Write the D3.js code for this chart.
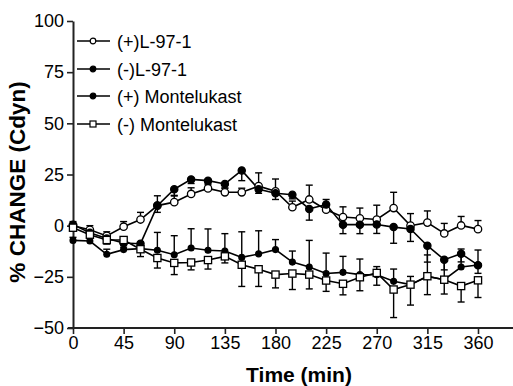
<!DOCTYPE html>
<html>
<head>
<meta charset="utf-8">
<script src="https://cdn.jsdelivr.net/npm/d3@7"></script>
<style>
  body { margin: 0; background: #fff; }
  text { font-family: "Liberation Sans", Arial, sans-serif; fill: #000; }
</style>
</head>
<body>
<svg id="chart" width="513" height="386"></svg>
<script>
// time points (min)
const times = [0, 15, 30, 45, 60, 75, 90, 105, 120, 135, 150, 165, 180, 195, 210, 225, 240, 255, 270, 285, 300, 315, 330, 345, 360];
const xTicks = [0, 45, 90, 135, 180, 225, 270, 315, 360];
const yTicks = [-50, -25, 0, 25, 50, 75, 100];

// % change in Cdyn
const plusL97 = [0, -2, -5, -0.5, 3, 9.8, 11.5, 15.5, 18.2, 16.3, 16.3, 19.3, 16.8, 9, 12.8, 7.8, 4.2, 3.6, 3, 8.6, 0, 1.5, -3.8, 0.1, -1.7];
const plusL97Err = [2, 2, 2, 2.5, 3.5, 4.8, 3, 3, 2.5, 2, 2, 6.5, 6, 3, 7, 5, 5, 5, 7, 7.7, 5.9, 5.7, 4.9, 4.4, 4.2];
const minusL97 = [-7.2, -7.5, -14, -11.7, -11.2, -12, -14.2, -10.9, -12, -12.4, -15.5, -13.8, -11.7, -17.8, -20.2, -23.4, -22.8, -23.9, -24, -27.2, -28.8, -24.8, -26.4, -20.2, -19.2];
const minusL97Err = [1.5, 1.5, 2.5, 3, 3, 8.7, 9.3, 9.4, 10.4, 8.5, 12.5, 11.3, 4.9, 5.4, 13, 10, 7.8, 7.6, 4, 6, 4, 10.5, 10, 8.8, 7.3];
const plusMont = [0.5, -3.5, -6.3, -8.5, -8.8, 9.8, 17.8, 22.6, 22, 20.4, 27, 17.8, 15.8, 15.1, 8.2, 10.3, 0.5, 0.5, 0.6, -0.7, -1.6, -9.8, -16.6, -13.7, -19.3];
const plusMontErr = [1.5, 1.5, 2, 2, 3, 3.3, 3, 2, 2, 2, 5, 2, 3, 2, 5.5, 3, 4.4, 4.4, 4.4, 7.9, 6.1, 8, 5, 4, 4];
const minusMont = [-1, -4.4, -7, -7, -11.5, -15.8, -18.2, -18, -16.8, -15, -19.1, -21.3, -23.9, -23.4, -23.9, -26.8, -28.4, -25.2, -23.1, -31.2, -28.8, -24.7, -26.4, -29.5, -26.7];
const minusMontErr = [1.5, 1.5, 2, 2.5, 3.6, 4.9, 5.7, 3.6, 4.4, 3.2, 10.6, 8.4, 6.5, 7.8, 7, 5.3, 5.4, 6.6, 6, 13.7, 10, 9, 7, 7.8, 8.4];

const seriesNames = ["(+)L-97-1", "(-)L-97-1", "(+) Montelukast", "(-) Montelukast"];

const series = [
  { name: seriesNames[0], values: plusL97, err: plusL97Err, dir: -1, shape: "circle", fill: "#fff", r: 3.7 },
  { name: seriesNames[1], values: minusL97, err: minusL97Err, dir: -1, shape: "circle", fill: "#000", r: 2.9 },
  { name: seriesNames[2], values: plusMont, err: plusMontErr, dir: 1, shape: "circle", fill: "#000", r: 3.6 },
  { name: seriesNames[3], values: minusMont, err: minusMontErr, dir: 1, shape: "square", fill: "#fff", r: 3.6 },
];

const svg = d3.select("#chart");
const x = d3.scaleLinear().domain([0, 400]).range([73, 523]);
const y = d3.scaleLinear().domain([-50, 100]).range([328, 21]);

// axes
const xAxis = svg.append("g")
  .attr("transform", `translate(0,${y(-50)})`)
  .call(d3.axisBottom(x).tickValues(xTicks).tickSize(6).tickPadding(2).tickSizeOuter(0));
const yAxis = svg.append("g")
  .attr("transform", `translate(${x(0)},0)`)
  .call(d3.axisLeft(y).tickValues(yTicks).tickSize(6).tickPadding(3).tickSizeOuter(0));

[xAxis, yAxis].forEach((a) => {
  a.select(".domain").attr("stroke", "#222").attr("stroke-width", 2);
  a.selectAll(".tick line").attr("stroke", "#222").attr("stroke-width", 1.6);
  a.selectAll(".tick text").style("font-size", "18px").attr("fill", "#000");
});
// x axis line runs on past the y axis a little
xAxis.select(".domain").attr("d", `M${x(0) - 5},0H513`);

svg.append("text")
  .attr("x", 299)
  .attr("y", 382)
  .attr("text-anchor", "middle")
  .style("font-size", "21px")
  .style("font-weight", "bold")
  .text("Time (min)");

svg.append("text")
  .attr("transform", "translate(25,182) rotate(-90)")
  .attr("text-anchor", "middle")
  .style("font-size", "22.5px")
  .style("font-weight", "bold")
  .text("% CHANGE (Cdyn)");

const line = d3.line()
  .x((d) => x(d.t))
  .y((d) => y(d.v));

const drawMarker = (sel, s) => {
  if (s.shape === "square") {
    sel.append("rect")
      .attr("x", (d) => x(d.t) - s.r)
      .attr("y", (d) => y(d.v) - s.r)
      .attr("width", s.r * 2)
      .attr("height", s.r * 2)
      .attr("fill", s.fill)
      .attr("stroke", "#000")
      .attr("stroke-width", 1.3);
  } else {
    sel.append("circle")
      .attr("cx", (d) => x(d.t))
      .attr("cy", (d) => y(d.v))
      .attr("r", s.r)
      .attr("fill", s.fill)
      .attr("stroke", "#000")
      .attr("stroke-width", 1.3);
  }
};

const plot = svg.append("g");

series.forEach((s) => {
  const pts = times.map((t, i) => ({ t, v: s.values[i], e: s.err[i] }));
  const g = plot.append("g");

  g.append("path")
    .datum(pts)
    .attr("fill", "none")
    .attr("stroke", "#000")
    .attr("stroke-width", 1.6)
    .attr("d", line);

  // one-sided error bars
  const bars = g.selectAll(".err").data(pts).join("g").attr("class", "err");
  bars.append("line")
    .attr("x1", (d) => x(d.t))
    .attr("x2", (d) => x(d.t))
    .attr("y1", (d) => y(d.v))
    .attr("y2", (d) => y(d.v - s.dir * d.e))
    .attr("stroke", "#000")
    .attr("stroke-width", 1.4);
  bars.append("line")
    .attr("x1", (d) => x(d.t) - 3.5)
    .attr("x2", (d) => x(d.t) + 3.5)
    .attr("y1", (d) => y(d.v - s.dir * d.e))
    .attr("y2", (d) => y(d.v - s.dir * d.e))
    .attr("stroke", "#000")
    .attr("stroke-width", 1.4);

  s.pts = pts;
});

series.forEach((s) => {
  const m = plot.append("g").selectAll("g").data(s.pts).join("g");
  drawMarker(m, s);
});

// legend
const legend = svg.append("g");
const rowY = [41, 69, 96, 124];
series.forEach((s, i) => {
  const row = legend.append("g").attr("transform", `translate(0,${rowY[i]})`);
  row.append("line")
    .attr("x1", 77).attr("x2", 110)
    .attr("stroke", "#000").attr("stroke-width", 1.6);
  if (s.shape === "square") {
    row.append("rect").attr("x", 93 - 3).attr("y", -3).attr("width", 6).attr("height", 6)
      .attr("fill", s.fill).attr("stroke", "#000").attr("stroke-width", 1.2);
  } else {
    row.append("circle").attr("cx", 93).attr("cy", 0).attr("r", 2.8)
      .attr("fill", s.fill).attr("stroke", "#000").attr("stroke-width", 1.2);
  }
  row.append("text")
    .attr("x", 117)
    .attr("y", 6.5)
    .style("font-size", "18px")
    .text(s.name);
});
</script>
</body>
</html>
